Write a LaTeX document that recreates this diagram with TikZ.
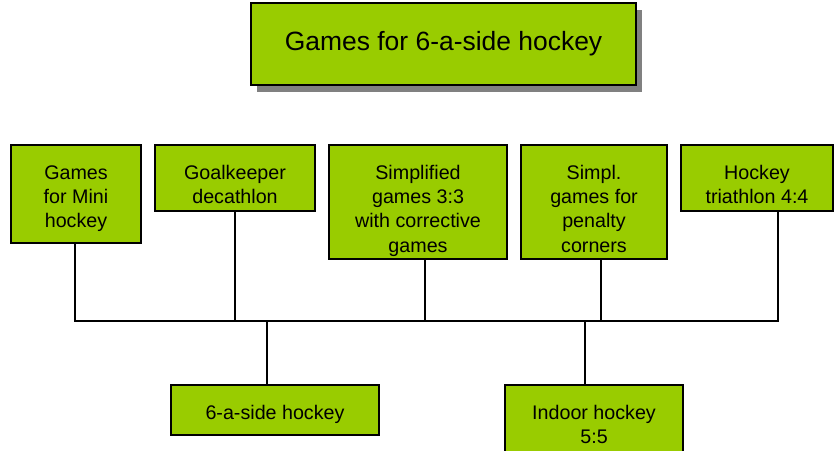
\documentclass[tikz,border=0pt]{standalone}
\usepackage{fontspec}
\setmainfont{Liberation Sans}
\usetikzlibrary{shadows}
\definecolor{boxgreen}{RGB}{153,204,0}
\definecolor{shadegray}{RGB}{128,128,128}
\tikzset{gbox/.style={draw=black,fill=boxgreen,line width=1pt,anchor=north west,outer sep=0pt,inner sep=0pt},
 btext/.style={anchor=north,yshift=-0.5cm,align=center,inner sep=0pt,font=\fontsize{14}{17.2}\selectfont},
 link/.style={draw=black,line width=0.9pt},
 every picture/.style={line join=miter}}
\begin{document}
\begin{tikzpicture}[x=0.025cm,y=-0.025cm]
\useasboundingbox (0,0) rectangle (835,450);
\node[gbox,minimum width=9.625cm,minimum height=2.05cm,drop shadow={shadow xshift=0.15cm,shadow yshift=-0.175cm,fill=shadegray,opacity=1},font=\fontsize{18.8}{22}\selectfont] (title) at (251,3) {Games for 6-a-side hockey};
\node[gbox,minimum width=3.25cm,minimum height=2.45cm,label={[btext]north:{Games\\for Mini\\hockey}}] (mini) at (11,145) {};
\node[gbox,minimum width=4cm,minimum height=1.65cm,label={[btext]north:{Goalkeeper\\decathlon}}] (keeper) at (155,145) {};
\node[gbox,minimum width=4.45cm,minimum height=2.85cm,label={[btext]north:{Simplified\\games 3:3\\with corrective\\games}}] (simpl) at (329,145) {};
\node[gbox,minimum width=3.65cm,minimum height=2.85cm,label={[btext]north:{Simpl.\\games for\\penalty\\corners}}] (corners) at (521,145) {};
\node[gbox,minimum width=3.8cm,minimum height=1.65cm,label={[btext]north:{Hockey\\triathlon 4:4}}] (triath) at (681,145) {};
\node[gbox,minimum width=5.2cm,minimum height=1.25cm,label={[btext]north:{6-a-side hockey}}] (six) at (171,385) {};
\node[gbox,minimum width=4.45cm,minimum height=2.2cm,label={[btext]north:{Indoor hockey\\5:5}}] (indoor) at (505,385) {};
\coordinate (j1) at (75,321);
\coordinate (j2) at (235,321);
\coordinate (j3) at (425,321);
\coordinate (j4) at (601,321);
\coordinate (j5) at (778,321);
\coordinate (j6) at (267,321);
\coordinate (j7) at (585,321);
\draw[link] (mini.south -| j1) -- (j1) -- (j5) -- (triath.south -| j5);
\draw[link] (keeper.south -| j2) -- (j2);
\draw[link] (simpl.south -| j3) -- (j3);
\draw[link] (corners.south -| j4) -- (j4);
\draw[link] (j6) -- (six.north -| j6);
\draw[link] (j7) -- (indoor.north -| j7);
\end{tikzpicture}
\end{document}
